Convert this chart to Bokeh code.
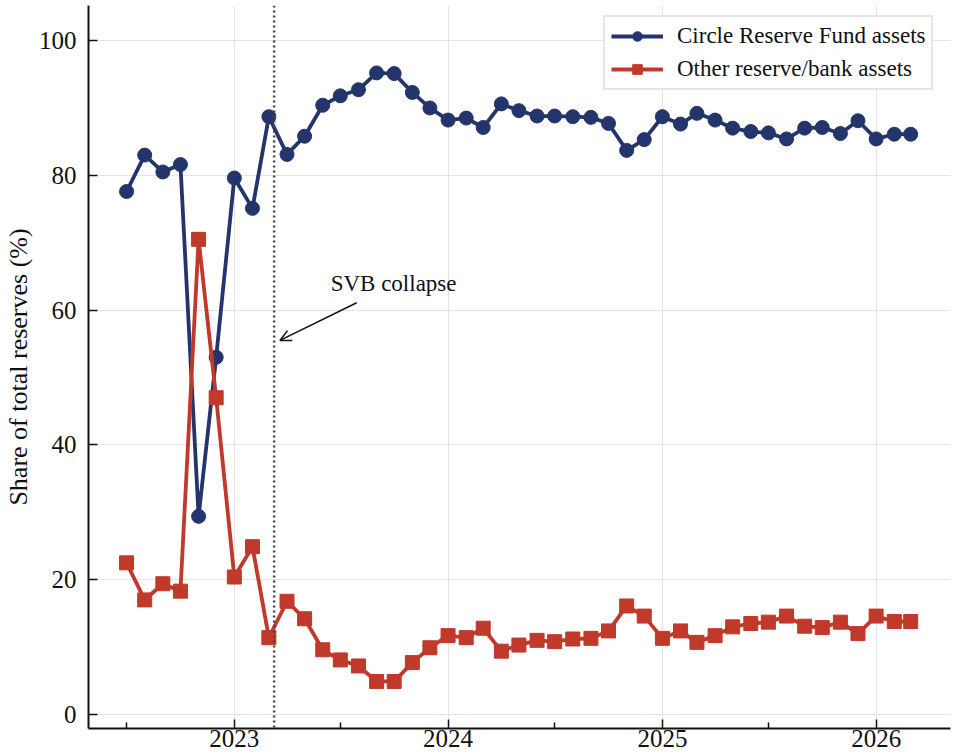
import pandas as pd
from bokeh.plotting import figure
from bokeh.models import (Range1d, FixedTicker, DatetimeTickFormatter, Span, Arrow,
                          OpenHead, Label, Legend, LegendItem, ColumnDataSource)
from bokeh.embed import file_html
from bokeh.resources import INLINE

# ---------------- data ----------------
months = [
    "2022-07-01", "2022-08-01", "2022-09-01", "2022-10-01", "2022-11-01", "2022-12-01",
    "2023-01-01", "2023-02-01", "2023-03-01", "2023-04-01", "2023-05-01", "2023-06-01",
    "2023-07-01", "2023-08-01", "2023-09-01", "2023-10-01", "2023-11-01", "2023-12-01",
    "2024-01-01", "2024-02-01", "2024-03-01", "2024-04-01", "2024-05-01", "2024-06-01",
    "2024-07-01", "2024-08-01", "2024-09-01", "2024-10-01", "2024-11-01", "2024-12-01",
    "2025-01-01", "2025-02-01", "2025-03-01", "2025-04-01", "2025-05-01", "2025-06-01",
    "2025-07-01", "2025-08-01", "2025-09-01", "2025-10-01", "2025-11-01", "2025-12-01",
    "2026-01-01", "2026-02-01", "2026-03-01",
]
circle_fund = [
    77.6, 83.0, 80.5, 81.6, 29.4, 53.0,
    79.6, 75.1, 88.7, 83.1, 85.8, 90.4,
    91.8, 92.7, 95.2, 95.1, 92.3, 90.0,
    88.2, 88.5, 87.1, 90.6, 89.6, 88.8,
    88.8, 88.7, 88.6, 87.7, 83.7, 85.3,
    88.7, 87.6, 89.2, 88.2, 87.0, 86.5,
    86.3, 85.4, 87.0, 87.1, 86.2, 88.1,
    85.4, 86.1, 86.1,
]
other_assets = [
    22.5, 17.0, 19.4, 18.3, 70.5, 47.0,
    20.4, 24.9, 11.4, 16.8, 14.2, 9.6,
    8.1, 7.2, 4.9, 4.9, 7.7, 9.9,
    11.7, 11.4, 12.8, 9.4, 10.3, 11.0,
    10.8, 11.2, 11.3, 12.4, 16.1, 14.6,
    11.3, 12.4, 10.7, 11.7, 13.0, 13.5,
    13.7, 14.6, 13.1, 12.9, 13.7, 12.0,
    14.6, 13.8, 13.8,
]
series_labels = ["Circle Reserve Fund assets", "Other reserve/bank assets"]
year_ticks = ["2023-01-01", "2024-01-01", "2025-01-01", "2026-01-01"]
midyear_ticks = ["2022-07-01", "2023-07-01", "2024-07-01", "2025-07-01"]
y_ticks = [0, 20, 40, 60, 80, 100]
svb_date = "2023-03-10"
svb_text = "SVB collapse"
y_title = "Share of total reserves (%)"


def ms(s):
    return pd.Timestamp(s).value / 1e6


FONT = "Liberation Serif"
BLUE = "#24356b"
RED = "#c0392b"
INK = "#111111"

src = ColumnDataSource(dict(
    x=[ms(m) for m in months],
    circle=circle_fund,
    other=other_assets,
))

p = figure(
    width=955, height=756,
    x_axis_type="datetime",
    x_range=Range1d(ms("2022-04-27"), ms("2026-05-08")),
    y_range=Range1d(-2.08, 105.2),
    output_backend="svg", toolbar_location=None,
    min_border_left=86, min_border_right=5, min_border_top=5, min_border_bottom=28,
)
p.outline_line_color = None
p.background_fill_color = "white"

# grid
for g in (p.xgrid, p.ygrid):
    g.grid_line_color = "#e6e3e3"
    g.grid_line_width = 1

# axes
p.xaxis.ticker = FixedTicker(ticks=[ms(t) for t in year_ticks],
                             minor_ticks=[ms(t) for t in midyear_ticks])
p.xaxis.formatter = DatetimeTickFormatter(
    years="%Y", months="%Y", days="%Y", hours="%Y", hourmin="%Y",
    minutes="%Y", minsec="%Y", seconds="%Y", milliseconds="%Y", microseconds="%Y")
p.yaxis.ticker = FixedTicker(ticks=y_ticks)
p.yaxis.axis_label = y_title

for ax in (p.xaxis, p.yaxis):
    ax.axis_line_width = 2
    ax.axis_line_color = INK
    ax.major_tick_in = 9
    ax.major_tick_out = 0
    ax.major_tick_line_width = 1.5
    ax.major_tick_line_color = INK
    ax.minor_tick_in = 6
    ax.minor_tick_out = 0
    ax.minor_tick_line_width = 1.5
    ax.minor_tick_line_color = INK
    ax.major_label_text_font = FONT
    ax.major_label_text_font_size = "25px"
    ax.major_label_text_color = INK
    ax.axis_label_text_font = FONT
    ax.axis_label_text_font_size = "26px"
    ax.axis_label_text_font_style = "normal"
    ax.axis_label_text_color = INK
p.yaxis.minor_tick_line_color = None
p.yaxis.major_label_standoff = 12
p.yaxis.axis_label_standoff = 3
p.xaxis.major_label_standoff = 1

# SVB line
p.add_layout(Span(location=ms(svb_date), dimension="height", line_color="#444444",
                  line_width=2.5, line_dash="2 3"))

# series
l1 = p.line("x", "circle", source=src, line_color=BLUE, line_width=3.8)
s1 = p.scatter("x", "circle", source=src, marker="circle", size=14,
               fill_color=BLUE, line_color=BLUE)
l2 = p.line("x", "other", source=src, line_color=RED, line_width=3.8)
s2 = p.scatter("x", "other", source=src, marker="square", size=14,
               fill_color=RED, line_color=RED)

# annotation
p.add_layout(Arrow(end=OpenHead(size=11, line_width=1.5, line_color=INK),
                   x_start=ms("2023-07-29"), y_start=61.1,
                   x_end=ms("2023-03-20"), y_end=55.5,
                   line_width=1.5, line_color=INK))
p.add_layout(Label(x=ms("2023-09-30"), y=63.9, text=svb_text,
                   text_font=FONT, text_font_size="23px", text_color=INK,
                   text_align="center", text_baseline="middle"))

legend = Legend(items=[
    LegendItem(label=series_labels[0], renderers=[l1, s1]),
    LegendItem(label=series_labels[1], renderers=[l2, s2]),
], location=(515, 638))
legend.label_text_font = FONT
legend.label_text_font_size = "23px"
legend.label_text_color = INK
legend.border_line_color = "#cccccc"
legend.border_line_width = 2
legend.background_fill_color = "white"
legend.background_fill_alpha = 1.0
legend.glyph_width = 52
legend.glyph_height = 24
legend.label_standoff = 14
legend.spacing = 7
legend.padding = 6
legend.margin = 0
p.add_layout(legend)

open("out.html", "w").write(file_html(p, INLINE))
